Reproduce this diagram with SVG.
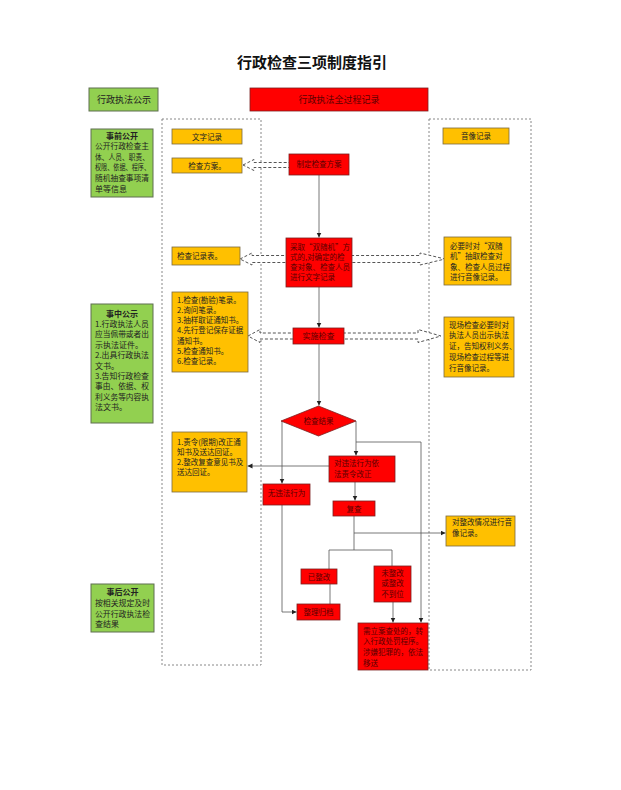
<svg xmlns="http://www.w3.org/2000/svg" width="621" height="790" viewBox="0 0 621 790">
<defs>
<marker id="ah" markerUnits="userSpaceOnUse" markerWidth="6" markerHeight="6" refX="5" refY="2.5" orient="auto"><path d="M0,0 L5,2.5 L0,5 Z" fill="#222"/></marker>
<style>
text{font-family:"Noto Sans CJK SC","Noto Sans",sans-serif;fill:#222;font-size:7.5px}
.t{font-size:15px;font-weight:bold;fill:#111}
.g{fill:#92D050;stroke:#5f6f50;stroke-width:1}
.r{fill:#FF0000;stroke:#7a2020;stroke-width:0.8}
.y{fill:#FFC000;stroke:#7a6a40;stroke-width:0.8}
.gt{font-size:8px}
.gb{font-size:8px;font-weight:bold}
.rt{fill:#5a0000}
.m{text-anchor:middle}
.col{fill:none;stroke:#888;stroke-width:1;stroke-dasharray:2,2}
.ha{fill:#fff;stroke:#555;stroke-width:1;stroke-dasharray:3,2}
.ln{fill:none;stroke:#555;stroke-width:0.8}
.la{fill:none;stroke:#555;stroke-width:0.8;marker-end:url(#ah)}
</style>
</defs>
<rect width="621" height="790" fill="#fff"/>
<text class="t m" x="312" y="68">行政检查三项制度指引</text>

<g id="columns">
<rect class="col" x="162" y="119" width="99" height="546"/>
<rect class="col" x="429" y="119" width="102" height="551"/>
</g>

<g id="connectors">
<path class="ha" d="M243,165 L254,159.5 L254,162.5 L290,162.5 L290,167.5 L254,167.5 L254,170.5 Z"/>
<path class="ha" d="M240,259 L252,253 L252,255.5 L420,255.5 L420,253 L445,259 L420,265 L420,262.5 L252,262.5 L252,265 Z"/>
<path class="ha" d="M248,336 L260,329.5 L260,333 L418,333 L418,329.5 L441,336 L418,342.5 L418,339 L260,339 L260,342.5 Z"/>
<path class="la" d="M319,175 V237.5"/>
<path class="la" d="M319,287 V327.5"/>
<path class="la" d="M319,344 V405.5"/>
<path class="la" d="M282,421 V483.5"/>
<path class="la" d="M356,421 V455.5"/>
<path class="ln" d="M356,442 H421"/>
<path class="la" d="M421,442 V622.5"/>
<path class="la" d="M329,466 H247.5"/>
<path class="la" d="M355,482 V500.5"/>
<path class="ln" d="M354,516 V550"/>
<path class="la" d="M354,533 H445.5"/>
<path class="ln" d="M329,550 H392"/>
<path class="ln" d="M329,550 V569"/>
<path class="ln" d="M392,550 V566"/>
<path class="ln" d="M330,584 V604"/>
<path class="ln" d="M282,505 V612"/>
<path class="la" d="M282,612 H296.5"/>
<path class="la" d="M393,602 V622.5"/>
</g>

<g id="n-gongshi"><rect class="g" x="89" y="88" width="69" height="23"/><text class="m" x="124" y="103" style="font-size:9px">行政执法公示</text></g>
<g id="n-quanguocheng"><rect class="r" x="250" y="88" width="178" height="23"/><text class="m rt" x="339" y="103" style="font-size:9px">行政执法全过程记录</text></g>

<g id="n-shiqian"><rect class="g" x="91" y="129" width="62" height="68"/>
<text class="gb m" x="122" y="138.5">事前公开</text>
<text class="gt" x="95" y="149" textLength="54" lengthAdjust="spacingAndGlyphs">公开行政检查主</text>
<text class="gt" x="95" y="159.7" textLength="54" lengthAdjust="spacingAndGlyphs">体、人员、职责、</text>
<text class="gt" x="95" y="170.4" textLength="55" lengthAdjust="spacingAndGlyphs">权限、依据、程序、</text>
<text class="gt" x="95" y="181.1" textLength="54" lengthAdjust="spacingAndGlyphs">随机抽查事项清</text>
<text class="gt" x="95" y="191.8">单等信息</text>
</g>

<g id="n-shizhong"><rect class="g" x="91" y="304" width="62" height="119"/>
<text class="gb m" x="122" y="316.5">事中公示</text>
<text class="gt" x="95" y="327" textLength="54" lengthAdjust="spacingAndGlyphs">1.行政执法人员</text>
<text class="gt" x="95" y="337.4" textLength="54" lengthAdjust="spacingAndGlyphs">应当佩带或者出</text>
<text class="gt" x="95" y="347.8">示执法证件。</text>
<text class="gt" x="95" y="358.2" textLength="54" lengthAdjust="spacingAndGlyphs">2.出具行政执法</text>
<text class="gt" x="95" y="368.6">文书。</text>
<text class="gt" x="95" y="379" textLength="54" lengthAdjust="spacingAndGlyphs">3.告知行政检查</text>
<text class="gt" x="95" y="389.4" textLength="54" lengthAdjust="spacingAndGlyphs">事由、依据、权</text>
<text class="gt" x="95" y="399.8" textLength="54" lengthAdjust="spacingAndGlyphs">利义务等内容执</text>
<text class="gt" x="95" y="410.2">法文书。</text>
</g>

<g id="n-shihou"><rect class="g" x="91" y="584" width="63" height="48"/>
<text class="gb m" x="122.5" y="595">事后公开</text>
<text class="gt" x="95" y="606" textLength="55" lengthAdjust="spacingAndGlyphs">按相关规定及时</text>
<text class="gt" x="95" y="616.5" textLength="55" lengthAdjust="spacingAndGlyphs">公开行政执法检</text>
<text class="gt" x="95" y="627">查结果</text>
</g>

<g id="n-wenzi"><rect class="y" x="172" y="129" width="70" height="15"/><text class="m" x="207" y="139.5">文字记录</text></g>
<g id="n-jianchafangan"><rect class="y" x="172" y="158" width="70" height="15"/><text class="m" x="207" y="168.5">检查方案。</text></g>
<g id="n-jiluBiao"><rect class="y" x="172" y="247" width="68" height="18"/><text x="177" y="259">检查记录表。</text></g>
<g id="n-bilu"><rect class="y" x="172" y="292" width="76" height="80"/>
<text x="177" y="302.7">1.检查(勘验)笔录。</text>
<text x="177" y="312.9">2.询问笔录。</text>
<text x="177" y="323.1">3.抽样取证通知书。</text>
<text x="177" y="333.3">4.先行登记保存证据</text>
<text x="177" y="343.5">通知书。</text>
<text x="177" y="353.7">5.检查通知书。</text>
<text x="177" y="363.9">6.检查记录。</text>
</g>
<g id="n-zeling"><rect class="y" x="172" y="432" width="75" height="60"/>
<text x="177" y="444.5">1.责令(限期)改正通</text>
<text x="177" y="454.8">知书及送达回证。</text>
<text x="177" y="465.1">2.整改复查意见书及</text>
<text x="177" y="475.4">送达回证。</text>
</g>

<g id="n-yinxiang"><rect class="y" x="443" y="128" width="66" height="16"/><text class="m" x="476" y="139">音像记录</text></g>
<g id="n-biyao"><rect class="y" x="444" y="237" width="67" height="48"/>
<text x="450" y="249">必要时对“双随</text>
<text x="450" y="259.3">机”抽取检查对</text>
<text x="450" y="269.6">象、检查人员过程</text>
<text x="450" y="279.9">进行音像记录。</text>
</g>
<g id="n-xianchang"><rect class="y" x="444" y="317" width="70" height="60"/>
<text x="449" y="327.7">现场检查必要时对</text>
<text x="449" y="338.4">执法人员出示执法</text>
<text x="449" y="349.1">证，告知权利义务、</text>
<text x="449" y="359.8">现场检查过程等进</text>
<text x="449" y="370.5">行音像记录。</text>
</g>
<g id="n-zhenggaiyx"><rect class="y" x="446" y="516" width="69" height="30"/>
<text x="452" y="524.5">对整改情况进行音</text>
<text x="452" y="535.5">像记录。</text>
</g>

<g id="n-zhiding"><rect class="r" x="289" y="154" width="60" height="21"/><text class="m rt" x="319" y="167">制定检查方案</text></g>
<g id="n-caiqu"><rect class="r" x="286" y="238" width="66" height="49"/>
<text class="rt" x="290" y="249.5">采取“双随机”方</text>
<text class="rt" x="290" y="259.8">式的,对确定的检</text>
<text class="rt" x="290" y="270.1">查对象、检查人员</text>
<text class="rt" x="290" y="280.4">进行文字记录</text>
</g>
<g id="n-shishi"><rect class="r" x="293" y="328" width="51" height="16"/><text class="m rt" x="318.5" y="339" style="font-size:8px">实施检查</text></g>
<g id="n-jieguo"><path class="r" d="M318.5,406 L356,421 L318.5,436 L281,421 Z"/><text class="m rt" x="318.5" y="424">检查结果</text></g>
<g id="n-weifa"><rect class="r" x="329" y="456" width="66" height="26"/>
<text class="rt" x="334" y="466">对违法行为依</text>
<text class="rt" x="334" y="476.7">法责令改正</text>
</g>
<g id="n-wuweifa"><rect class="r" x="263" y="484" width="47" height="21"/><text class="m rt" x="286.5" y="495.5">无违法行为</text></g>
<g id="n-fucha"><rect class="r" x="333" y="501" width="42" height="15"/><text class="m rt" x="354" y="511.5">复查</text></g>
<g id="n-yizhenggai"><rect class="r" x="301" y="569" width="36" height="15"/><text class="m rt" x="319" y="579.5">已整改</text></g>
<g id="n-weizhenggai"><rect class="r" x="374" y="566" width="37" height="36"/>
<text class="m rt" x="392.5" y="576">未整改</text>
<text class="m rt" x="392.5" y="586.3">或整改</text>
<text class="m rt" x="392.5" y="596.6">不到位</text>
</g>
<g id="n-guidang"><rect class="r" x="297" y="604" width="43" height="16"/><text class="m rt" x="318.5" y="614.7">整理归档</text></g>
<g id="n-lian"><rect class="r" x="358" y="623" width="70" height="47"/>
<text class="rt" x="363" y="633.5">需立案查处的，转</text>
<text class="rt" x="363" y="644.3">入行政处罚程序。</text>
<text class="rt" x="363" y="655.1">涉嫌犯罪的，依法</text>
<text class="rt" x="363" y="665.9">移送</text>
</g>
</svg>
